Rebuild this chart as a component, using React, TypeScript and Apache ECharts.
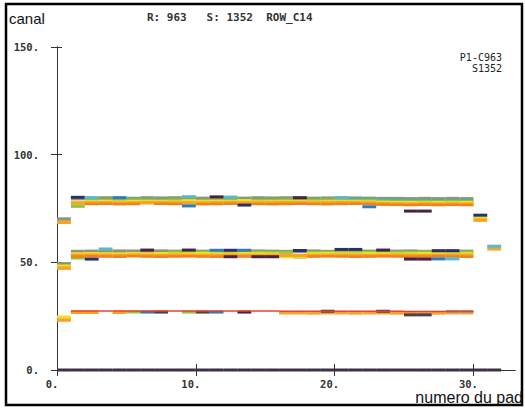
import React, { useEffect, useRef } from "react";
import * as echarts from "echarts";

// pad index 0..31 ; each pad occupies [i, i+1] on the x axis
const xTicks = [0, 10, 20, 30];
const yTicks = [0, 50, 100, 150];

// ---- upper band (~78) ----
const upperTop = [70.1, 79.6, 79.8, 79.9, 79.8, 79.7, 79.9, 79.8, 79.9, 79.8, 79.7, 79.9, 79.8, 79.7, 79.9, 79.8, 79.9, 79.8, 79.7, 79.8, 79.9, 79.8, 79.7, 79.6, 79.6, 79.5, 79.6, 79.5, 79.6, 79.5, null, null];
const upperTeal = [null, null, null, null, null, null, null, null, null, null, null, null, null, null, null, null, null, null, null, null, null, 79.3, 79.2, 79.0, 78.9, 78.7, 78.7, 78.6, 78.7, 78.6, null, null];
const upperGreen = [null, 76.0, 78.9, 78.8, 78.7, 78.9, 78.8, 78.7, 78.9, 78.8, 78.7, 78.8, 78.9, 78.8, 78.7, 78.8, 78.9, 78.7, 78.8, 78.9, 78.8, 78.7, 78.8, 78.4, 78.3, 78.2, 78.3, 78.2, 78.3, 78.2, null, null];
const upperYellow = [null, 77.9, 78.2, 78.3, 78.1, 78.2, 78.3, 78.2, 78.1, 78.6, 78.2, 78.3, 78.2, 78.7, 78.1, 78.2, 78.3, 78.2, 78.1, 78.2, 78.3, 78.2, 78.1, 77.9, 77.8, 77.8, 77.7, 77.8, 77.7, 77.8, 70.8, null];
const upperOrange = [68.6, 77.5, 77.6, 77.6, 77.5, 77.6, 77.7, 77.6, 77.5, 77.6, 77.5, 77.6, 77.7, 77.6, 77.5, 77.6, 77.7, 77.6, 77.5, 77.6, 77.7, 77.6, 77.5, 77.2, 77.1, 77.0, 77.1, 77.0, 77.1, 77.0, 69.6, null];
const upperDarkOrange = [null, null, 77.1, 77.2, 77.0, 77.1, null, 77.2, 77.1, null, 77.0, 77.1, 77.2, null, 77.1, 77.0, 77.1, 77.2, 77.1, 77.0, 77.1, 77.2, 77.1, 76.8, 76.7, 76.6, 76.7, 76.6, 76.7, 76.6, null, null];
const upperNavy = [null, 80.2, null, null, null, null, null, null, null, null, null, null, null, 76.6, null, null, null, null, null, null, null, null, null, null, null, null, null, null, null, null, 71.9, null];
const upperSteel = [null, null, null, null, 80.0, null, null, null, null, 76.2, null, null, null, null, null, null, null, null, null, null, null, null, 75.8, null, null, null, null, null, null, null, null, null];
const upperLight = [null, null, 80.0, null, null, null, null, null, null, 80.5, null, null, 80.3, null, null, null, null, null, null, null, 80.0, null, null, null, null, null, null, null, null, null, null, null];
const upperPurple = [null, null, null, null, null, null, null, null, null, null, null, 80.4, null, null, null, null, null, 80.0, null, null, null, null, null, null, null, 73.8, 73.8, null, null, null, null, null];

// ---- middle band (~54) ----
const midTop = [49.3, 55.0, 55.1, 55.0, 55.2, 55.1, 55.0, 55.2, 55.1, 55.0, 55.1, 55.2, 55.0, 55.1, 55.2, 55.1, 55.0, 55.1, 55.2, 55.0, 55.1, 55.2, 55.1, 55.0, 55.1, 55.2, 55.0, 55.1, 55.2, 55.1, null, null];
const midGreen = [null, 52.0, null, null, null, null, null, null, 54.7, 54.6, 54.7, 54.6, 54.7, 54.8, 54.7, 54.6, 54.7, 52.4, 54.6, 54.7, 54.8, 54.7, 54.6, 54.7, 54.6, 54.7, 54.8, 54.7, 54.6, 54.7, null, null];
const midYellow = [48.3, 54.0, 54.1, 54.0, 53.9, 54.1, 54.0, 54.1, 53.9, 54.0, 54.1, 54.0, 53.9, 54.1, 54.0, 53.9, 52.6, 52.6, 54.0, 54.1, 54.0, 53.9, 54.1, 54.0, 53.9, 54.0, 54.1, 54.0, 53.9, 54.0, null, null];
const midOrange = [47.3, 53.2, 53.3, 53.2, 53.1, 53.3, 53.2, 53.1, 53.3, 53.2, 53.1, 53.2, 53.3, 53.2, 53.1, 53.2, 53.3, 53.2, 53.1, 53.2, 53.3, 53.2, 53.1, 53.2, 53.3, 53.2, 53.1, 53.2, 53.3, 53.2, null, 56.3];
const midDarkOrange = [null, 52.7, 52.8, 52.7, 52.6, 52.8, 52.7, 52.6, 52.7, 52.8, 52.7, 52.6, null, 52.7, null, null, null, null, 52.7, 52.8, 52.7, 52.6, 52.7, 52.8, 52.7, 52.6, 52.7, 52.8, 52.7, 52.6, null, null];
const midNavy = [null, null, 51.5, null, null, null, null, null, null, null, null, null, 55.6, null, null, null, null, 55.5, null, null, 56.0, 56.0, null, null, null, null, null, 55.4, 55.4, null, null, null];
const midPurple = [null, null, null, null, null, null, 55.7, null, null, 55.7, null, null, 52.6, null, 52.6, 52.6, null, null, null, null, null, null, null, 55.7, null, 51.5, 51.5, null, null, null, null, null];
const midSteel = [null, null, null, null, null, null, null, null, null, null, null, 55.6, null, 55.6, null, null, null, null, null, null, null, null, null, null, null, null, null, 51.6, null, null, null, null];
const midLight = [null, null, null, 56.2, null, null, null, null, null, null, null, null, null, null, null, null, null, null, null, null, null, null, null, null, null, null, null, null, 51.6, null, null, 57.5];

// ---- lower band (~27) ----
const lowRed = [null, 27.4, 27.4, 27.4, 27.4, 27.4, 27.4, 27.4, 27.4, 27.4, 27.4, 27.4, 27.4, 27.4, 27.4, 27.4, 27.3, 27.3, 27.3, 27.3, 27.3, 27.3, 27.3, 27.3, 27.3, 27.2, 27.2, 27.2, 27.2, 27.2, null, null];
const lowOrange = [23.2, 26.8, 26.8, null, 26.8, null, null, null, null, null, null, null, null, null, null, null, 26.6, 26.6, 26.5, 26.6, 26.6, 26.5, 26.6, 26.6, 26.5, 26.6, 26.6, 26.5, 26.6, 26.6, null, null];
const lowYellow = [24.6, null, null, null, null, null, null, null, null, null, null, null, null, null, null, null, null, null, null, null, null, null, null, null, null, null, null, null, null, null, null, null];
const lowGreen = [null, null, null, null, null, 26.9, null, null, null, 26.9, null, null, null, null, null, null, null, null, null, null, null, null, null, null, null, null, null, null, null, null, null, null];
const lowSteel = [null, null, null, null, null, null, 26.9, null, null, null, null, 26.9, null, null, null, null, null, null, null, null, null, null, null, null, null, null, null, null, null, null, null, null];
const lowDark = [null, null, null, null, null, null, null, 26.9, null, null, 26.9, null, null, null, null, null, null, null, null, 27.3, null, null, null, 27.3, null, 25.6, 25.6, null, null, null, null, null];
const lowPurple = [null, null, null, null, null, null, null, null, null, null, null, null, null, 26.9, null, null, null, null, null, null, null, null, null, null, null, null, null, null, null, null, null, null];
const lowGray = [null, null, null, null, null, null, null, null, null, null, null, null, null, null, null, null, null, null, null, null, null, null, null, null, null, null, null, null, 27.2, 27.2, null, null];

// ---- zero line ----
const zeroLine = [0, 0, 0, 0, 0, 0, 0, 0, 0, 0, 0, 0, 0, 0, 0, 0, 0, 0, 0, 0, 0, 0, 0, 0, 0, 0, 0, 0, 0, 0, 0, 0];

const C = {
  olive: "#8a9876",
  teal: "#4fa9c4",
  green: "#8dc63f",
  yellow: "#f6df1c",
  orange: "#f5a32c",
  darkOrange: "#f0811f",
  navy: "#2c2f6e",
  steel: "#2f7bbd",
  light: "#5bb8d2",
  purple: "#4a2244",
  red: "#e8402c",
  dark: "#45434e",
  gray: "#9aa090",
  zero: "#3d3046",
};

const layers: { name: string; values: (number | null)[]; color: string; h: number }[] = [
  { name: "zero", values: zeroLine, color: C.zero, h: 3 },
  { name: "uTop", values: upperTop, color: C.olive, h: 3.5 },
  { name: "uTeal", values: upperTeal, color: C.teal, h: 3 },
  { name: "uGreen", values: upperGreen, color: C.green, h: 3 },
  { name: "uYellow", values: upperYellow, color: C.yellow, h: 3 },
  { name: "uOrange", values: upperOrange, color: C.orange, h: 3.5 },
  { name: "uDarkOrange", values: upperDarkOrange, color: C.darkOrange, h: 2.5 },
  { name: "uNavy", values: upperNavy, color: C.navy, h: 3 },
  { name: "uSteel", values: upperSteel, color: C.steel, h: 3 },
  { name: "uLight", values: upperLight, color: C.light, h: 3 },
  { name: "uPurple", values: upperPurple, color: C.purple, h: 3 },
  { name: "mTop", values: midTop, color: C.olive, h: 3.5 },
  { name: "mGreen", values: midGreen, color: C.green, h: 3 },
  { name: "mYellow", values: midYellow, color: C.yellow, h: 3 },
  { name: "mOrange", values: midOrange, color: C.orange, h: 3.5 },
  { name: "mDarkOrange", values: midDarkOrange, color: C.darkOrange, h: 2.5 },
  { name: "mNavy", values: midNavy, color: C.navy, h: 3 },
  { name: "mPurple", values: midPurple, color: C.purple, h: 3 },
  { name: "mSteel", values: midSteel, color: C.steel, h: 3 },
  { name: "mLight", values: midLight, color: C.light, h: 3 },
  { name: "lYellow", values: lowYellow, color: C.yellow, h: 3 },
  { name: "lOrange", values: lowOrange, color: C.orange, h: 3.5 },
  { name: "lGreen", values: lowGreen, color: C.green, h: 3 },
  { name: "lSteel", values: lowSteel, color: C.steel, h: 3 },
  { name: "lDark", values: lowDark, color: C.dark, h: 3 },
  { name: "lPurple", values: lowPurple, color: C.purple, h: 3 },
  { name: "lGray", values: lowGray, color: C.gray, h: 3 },
  { name: "lRed", values: lowRed, color: C.red, h: 1.5 },
];

const mono = "DejaVu Sans Mono";
const sans = "Liberation Sans";

export default function App() {
  const ref = useRef<HTMLDivElement>(null);
  useEffect(() => {
    document.body.style.margin = "0";
    if (!ref.current) return;
    const chart = echarts.init(ref.current, undefined, { renderer: "svg" });

    const series = layers.map((l) => ({
      type: "custom" as const,
      name: l.name,
      xAxisIndex: 0,
      yAxisIndex: 0,
      data: l.values
        .map((v, i) => (v == null ? null : [i, v]))
        .filter((d) => d != null),
      encode: { x: 0, y: 1 },
      silent: true,
      renderItem: (_p: any, api: any) => {
        const pad = api.value(0);
        const v = api.value(1);
        const a = api.coord([pad, v]);
        const b = api.coord([pad + 1, v]);
        return {
          type: "rect",
          shape: { x: a[0], y: a[1] - l.h / 2, width: b[0] - a[0], height: l.h },
          style: { fill: l.color },
        };
      },
    }));

    const axisLine = { show: true, lineStyle: { color: "#333", width: 1 } };
    const tickStyle = { color: "#333", width: 1 };

    chart.setOption({
      animation: false,
      backgroundColor: "#fff",
      grid: { left: 57, right: 10, top: 47, bottom: 38, containLabel: false },
      xAxis: [
        {
          type: "value",
          position: "bottom",
          min: 0,
          max: 33,
          axisLine,
          axisTick: { show: true, length: 6, customValues: xTicks, lineStyle: tickStyle },
          axisLabel: {
            customValues: xTicks,
            formatter: (v: number) => v + ".",
            fontFamily: mono,
            fontSize: 10.5,
            fontWeight: "bold",
            color: "#333",
            margin: 8,
            padding: [0, 10, 0, 0],
          },
          splitLine: { show: false },
        },
        {
          type: "value",
          position: "top",
          min: 0,
          max: 33,
          axisLine,
          axisTick: { show: true, length: 6, customValues: xTicks, lineStyle: tickStyle },
          axisLabel: { show: false },
          splitLine: { show: false },
        },
      ],
      yAxis: [
        {
          type: "value",
          position: "left",
          min: 0,
          max: 150,
          interval: 50,
          axisLine,
          axisTick: { show: true, length: 6, lineStyle: tickStyle },
          axisLabel: {
            formatter: (v: number) => (yTicks.includes(v) ? v + "." : ""),
            fontFamily: mono,
            fontSize: 10.5,
            fontWeight: "bold",
            color: "#333",
            margin: 18,
          },
          splitLine: { show: false },
        },
        {
          type: "value",
          position: "right",
          min: 0,
          max: 150,
          interval: 50,
          axisLine,
          axisTick: { show: true, length: 5, lineStyle: tickStyle },
          axisLabel: { show: false },
          splitLine: { show: false },
        },
      ],
      graphic: [
        {
          type: "rect",
          shape: { x: 6, y: 4, width: 516, height: 401 },
          style: { fill: "none", stroke: "#000", lineWidth: 2.5 },
          silent: true,
        },
        {
          type: "text",
          x: 9,
          y: 18,
          style: { text: "canal", font: `15px "${sans}"`, fill: "#111", textVerticalAlign: "middle" },
        },
        {
          type: "text",
          x: 147,
          y: 17,
          style: { text: "R: 963   S: 1352  ROW_C14", font: `bold 11px "${mono}"`, fill: "#333", textVerticalAlign: "middle" },
        },
        {
          type: "text",
          x: 502,
          y: 57,
          style: { text: "P1-C963", font: `10px "${mono}"`, fill: "#222", textAlign: "right", textVerticalAlign: "middle" },
        },
        {
          type: "text",
          x: 502,
          y: 68,
          style: { text: "S1352", font: `10px "${mono}"`, fill: "#222", textAlign: "right", textVerticalAlign: "middle" },
        },
        {
          type: "text",
          x: 523,
          y: 397,
          style: { text: "numero du pad", font: `16px "${sans}"`, fill: "#111", textAlign: "right", textVerticalAlign: "middle" },
        },
      ],
      series,
    });
    return () => chart.dispose();
  }, []);
  return <div ref={ref} style={{ width: 525, height: 408 }} />;
}
